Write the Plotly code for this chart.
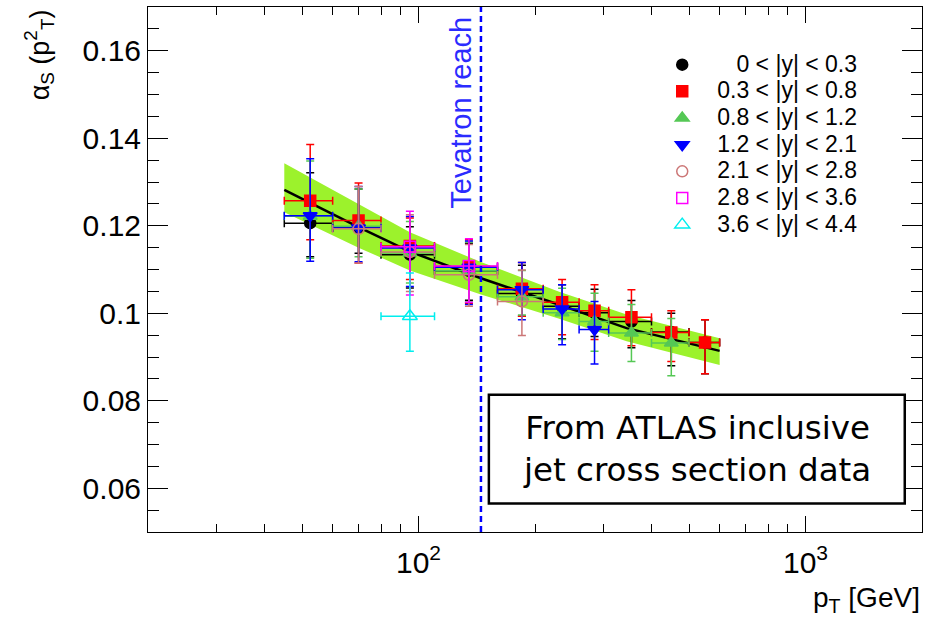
import plotly.graph_objects as go

# ---------------- data ----------------
PT_LOW = [45, 60, 80, 110, 160, 210, 260, 310, 400, 500]
PT_HIGH = [60, 80, 110, 160, 210, 260, 310, 400, 500, 600]
PT_CENTER = [52.5, 70, 95, 135, 185, 235, 285, 355, 450, 550]

# alpha_s values, upper and lower error ends (None = bin not measured)
AS_Y00 = [0.1206, 0.1195, 0.1134, 0.1097, 0.1045, 0.1016, 0.1001, 0.0981, 0.0957, 0.0933]
UP_Y00 = [0.1321, 0.1284, 0.1198, 0.1160, 0.1110, 0.1065, 0.1055, 0.1029, 0.1000, 0.0985]
DN_Y00 = [0.1129, 0.1137, 0.1058, 0.1030, 0.0993, 0.0942, 0.0947, 0.0921, 0.0880, 0.0862]

AS_Y03 = [0.1257, 0.1212, 0.1154, 0.1107, 0.1056, 0.1025, 0.1006, 0.0991, 0.0956, 0.0933]
UP_Y03 = [0.1386, 0.1298, 0.1218, 0.1168, 0.1116, 0.1077, 0.1065, 0.1054, 0.1006, 0.0985]
DN_Y03 = [0.1168, 0.1115, 0.1077, 0.1023, 0.0993, 0.0951, 0.0940, 0.0926, 0.0890, 0.0862]

AS_Y08 = [0.1222, 0.1199, 0.1138, 0.1097, 0.1038, 0.1001, 0.0981, 0.0955, 0.0932, None]
UP_Y08 = [0.1348, 0.1284, 0.1210, 0.1163, 0.1098, 0.1057, 0.1046, 0.1020, 0.0988, None]
DN_Y08 = [0.1126, 0.1129, 0.1069, 0.1026, 0.0996, 0.0940, 0.0913, 0.0890, 0.0857, None]

AS_Y12 = [0.1223, 0.1195, 0.1149, 0.1105, 0.1054, 0.1010, 0.0963, None, None, None]
UP_Y12 = [0.1353, 0.1290, 0.1221, 0.1165, 0.1116, 0.1065, 0.1027, None, None, None]
DN_Y12 = [0.1119, 0.1118, 0.1061, 0.1020, 0.0985, 0.0928, 0.0884, None, None, None]

AS_Y21 = [None, 0.1193, 0.1140, 0.1088, 0.1027, None, None, None, None, None]
UP_Y21 = [None, 0.1290, 0.1225, 0.1157, 0.1099, None, None, None, None, None]
DN_Y21 = [None, 0.1115, 0.1050, 0.1016, 0.0949, None, None, None, None, None]

AS_Y28 = [None, None, 0.1152, 0.1108, None, None, None, None, None, None]
UP_Y28 = [None, None, 0.1233, 0.1170, None, None, None, None, None, None]
DN_Y28 = [None, None, 0.1042, 0.1025, None, None, None, None, None, None]

AS_Y36 = [None, None, 0.0993, None, None, None, None, None, None, None]
UP_Y36 = [None, None, 0.1092, None, None, None, None, None, None, None]
DN_Y36 = [None, None, 0.0913, None, None, None, None, None, None, None]

SERIES_LABELS = ["0 < |y| < 0.3", "0.3 < |y| < 0.8", "0.8 < |y| < 1.2", "1.2 < |y| < 2.1",
                 "2.1 < |y| < 2.8", "2.8 < |y| < 3.6", "3.6 < |y| < 4.4"]

# QCD running alpha_s curve with its uncertainty band
CURVE_PT = [45, 70, 95, 145, 230, 345, 600]
CURVE_AS = [0.1282, 0.1197, 0.1141, 0.1080, 0.1020, 0.0966, 0.0914]
BAND_LO = [0.1231, 0.1150, 0.1098, 0.1043, 0.0988, 0.0936, 0.0882]
BAND_HI = [0.1343, 0.1250, 0.1185, 0.1117, 0.1050, 0.0997, 0.0943]

TEVATRON_REACH = 145
X_TICKS = [100, 1000]
X_TICKTEXT = ["10<sup>2</sup>", "10<sup>3</sup>"]
X_MINOR = [20, 30, 40, 50, 60, 70, 80, 90, 200, 300, 400, 500, 600, 700, 800, 900, 2000]
Y_TICKS = [0.06, 0.08, 0.10, 0.12, 0.14, 0.16]
Y_TICKTEXT = ["0.06", "0.08", "0.1", "0.12", "0.14", "0.16"]

# ---------------- styles ----------------
STYLES = [
    dict(symbol="circle", color="#000000", size=11),
    dict(symbol="square", color="#ff0000", size=11),
    dict(symbol="triangle-up", color="#55c855", size=12),
    dict(symbol="triangle-down", color="#0000ff", size=12),
    dict(symbol="circle-open", color="#cc7777", size=11),
    dict(symbol="square-open", color="#ff00ff", size=11),
    dict(symbol="triangle-up-open", color="#00eeee", size=13),
]
SERIES = [
    (AS_Y00, UP_Y00, DN_Y00), (AS_Y03, UP_Y03, DN_Y03), (AS_Y08, UP_Y08, DN_Y08),
    (AS_Y12, UP_Y12, DN_Y12), (AS_Y21, UP_Y21, DN_Y21), (AS_Y28, UP_Y28, DN_Y28),
    (AS_Y36, UP_Y36, DN_Y36),
]

FONT = "Liberation Sans, Arial, Helvetica, sans-serif"
LEG_PAD = ["\u00a0\u00a0\u00a0", "", "", "", "", "", ""]

fig = go.Figure()

# band
fig.add_trace(go.Scatter(x=CURVE_PT, y=BAND_LO, mode="lines", line=dict(width=0, color="#9cf22c"),
                         showlegend=False, hoverinfo="skip"))
fig.add_trace(go.Scatter(x=CURVE_PT, y=BAND_HI, mode="lines", line=dict(width=0, color="#9cf22c"),
                         fill="tonexty", fillcolor="#9cf22c", showlegend=False, hoverinfo="skip"))
# central curve
fig.add_trace(go.Scatter(x=CURVE_PT, y=CURVE_AS, mode="lines", line=dict(width=2.5, color="black"),
                         showlegend=False, hoverinfo="skip"))

for (vals, ups, dns), st, lab, pad in zip(SERIES, STYLES, SERIES_LABELS, LEG_PAD):
    xs, ys, ep, em, xp, xm = [], [], [], [], [], []
    for i, v in enumerate(vals):
        if v is None:
            continue
        xs.append(PT_CENTER[i])
        ys.append(v)
        ep.append(ups[i] - v)
        em.append(v - dns[i])
        xp.append(PT_HIGH[i] - PT_CENTER[i])
        xm.append(PT_CENTER[i] - PT_LOW[i])
    name = '<span style="font-size:23px">' + pad + lab.replace("<", "&lt;") + "</span>"
    fig.add_trace(go.Scatter(
        x=xs, y=ys, mode="markers", name=name,
        marker=dict(symbol=st["symbol"], color=st["color"], size=st["size"],
                    line=dict(width=1.5, color=st["color"])),
        error_y=dict(type="data", array=ep, arrayminus=em, color=st["color"], thickness=1.5, width=4),
        error_x=dict(type="data", array=xp, arrayminus=xm, color=st["color"], thickness=1.5, width=4),
    ))

# Tevatron reach line
fig.add_shape(type="line", x0=TEVATRON_REACH, x1=TEVATRON_REACH, xref="x", y0=0, y1=1, yref="paper",
              line=dict(color="#0000ff", width=2.5, dash="6px,4px"))
# annotation x on a log axis is given as log10(pT)
fig.add_annotation(x=2.1093, xref="x", y=0.1458, yref="y", text="Tevatron reach", textangle=-90,
                   showarrow=False, font=dict(family=FONT, size=29, color="#2b2bff"),
                   xanchor="center", yanchor="middle")

# text box
fig.add_shape(type="rect", xref="x", yref="y", x0=152, x1=1805, y0=0.0565, y1=0.0814,
              line=dict(color="black", width=2.5), fillcolor="white")
fig.add_annotation(x=0.5 * (2.1818 + 3.2565), xref="x", y=0.0690, yref="y",
                   text="From ATLAS inclusive<br>jet cross section data", showarrow=False,
                   font=dict(family="DejaVu Sans, Verdana, sans-serif", size=32.5, color="black"),
                   xanchor="center", yanchor="middle", align="center")

# axis titles
fig.add_annotation(x=1.0, xref="paper", y=-0.128, yref="paper", text="p<sub>T</sub> [GeV]",
                   showarrow=False, xanchor="right", yanchor="middle",
                   font=dict(family=FONT, size=28, color="black"))
fig.add_annotation(x=-0.141, xref="paper", y=1.0, yref="paper",
                   text="\u03b1<sub>S</sub> (p<sup>2</sup><sub>T</sub>)", textangle=-90,
                   showarrow=False, xanchor="center", yanchor="top",
                   font=dict(family=FONT, size=27, color="black"))

fig.update_layout(
    width=934, height=626,
    margin=dict(l=148, r=12, t=7, b=94),
    paper_bgcolor="white", plot_bgcolor="white",
    font=dict(family=FONT, color="black"),
    showlegend=True,
    legend=dict(x=0.645, y=0.925, xanchor="left", yanchor="top", bgcolor="rgba(0,0,0,0)",
                font=dict(family=FONT, size=18.2, color="black"), itemwidth=60,
                traceorder="normal"),
    xaxis=dict(type="log", range=[1.30103, 3.30103], showgrid=False, zeroline=False,
               showline=True, linecolor="black", linewidth=1, mirror="allticks",
               ticks="inside", ticklen=16, tickcolor="black", tickwidth=1,
               tickvals=X_TICKS, ticktext=X_TICKTEXT, tickfont=dict(family=FONT, size=30),
               ticklabelstandoff=4,
               minor=dict(tickvals=X_MINOR, ticks="inside", ticklen=8, tickcolor="black", tickwidth=1)),
    yaxis=dict(range=[0.05, 0.17], showgrid=False, zeroline=False,
               showline=True, linecolor="black", linewidth=1, mirror="allticks",
               ticks="inside", ticklen=20, tickcolor="black", tickwidth=1,
               tickvals=Y_TICKS, ticktext=Y_TICKTEXT, tickfont=dict(family=FONT, size=30),
               minor=dict(dtick=0.005, tick0=0.05, ticks="inside", ticklen=11, tickcolor="black", tickwidth=1)),
)

fig.write_html("out.html")
